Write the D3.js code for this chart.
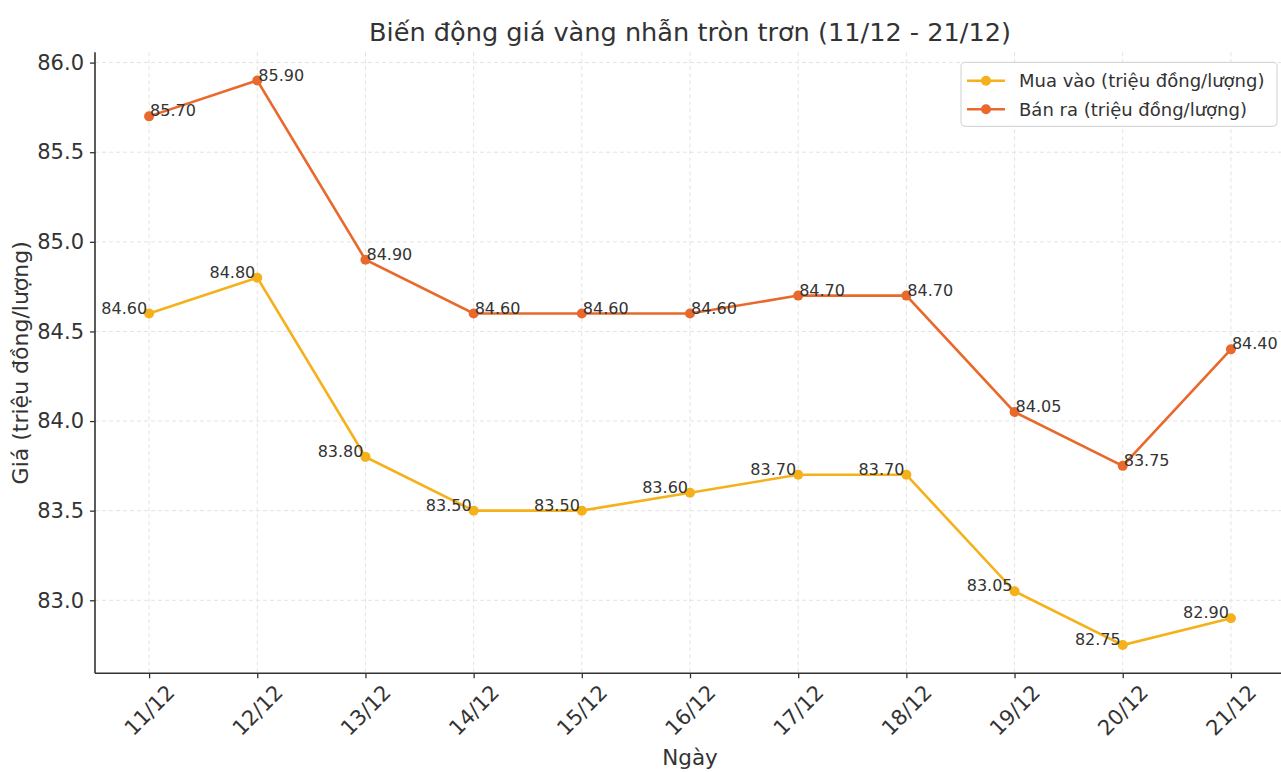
<!DOCTYPE html>
<html><head><meta charset="utf-8">
<script src="https://cdn.jsdelivr.net/npm/d3@7"></script>
<style>body{margin:0;background:#fff}svg{display:block}text{font-family:"DejaVu Sans",sans-serif;fill:#333}</style>
</head><body><svg id="c" width="1281" height="772"></svg>
<script>
const dates = ["11/12","12/12","13/12","14/12","15/12","16/12","17/12","18/12","19/12","20/12","21/12"];
const buyValues = [84.60,84.80,83.80,83.50,83.50,83.60,83.70,83.70,83.05,82.75,82.90];
const sellValues = [85.70,85.90,84.90,84.60,84.60,84.60,84.70,84.70,84.05,83.75,84.40];
const yTicks = [83.0,83.5,84.0,84.5,85.0,85.5,86.0];
const seriesNames = ["Mua vào (triệu đồng/lượng)","Bán ra (triệu đồng/lượng)"];
const colors = ["#f5b01a","#e8692b"];

const svg = d3.select("#c");
const L=95, R=1285, T=52.3, B=673.3;
const x = d3.scaleLinear().domain([-0.5, dates.length-0.5]).range([L,R]);
const y = d3.scaleLinear().domain([82.5925, 86.0575]).range([B,T]);

// grid
const g = svg.append("g");
g.selectAll(".gx").data(dates).enter().append("line")
  .attr("x1",(d,i)=>x(i)).attr("x2",(d,i)=>x(i)).attr("y1",T).attr("y2",B)
  .attr("stroke","#e3e3e3").attr("stroke-width",1).attr("stroke-dasharray","4,3");
g.selectAll(".gy").data(yTicks).enter().append("line")
  .attr("x1",L).attr("x2",R).attr("y1",d=>y(d)).attr("y2",d=>y(d))
  .attr("stroke","#e3e3e3").attr("stroke-width",1).attr("stroke-dasharray","4,3");

// axes
const yAxis = d3.axisLeft(y).tickValues(yTicks).tickFormat(d3.format(".1f")).tickSize(5).tickPadding(6);
const ya = svg.append("g").attr("transform",`translate(${L},0)`).call(yAxis);
ya.select(".domain").remove();
ya.selectAll(".tick line").attr("stroke","#333").attr("stroke-width",1.3);
ya.selectAll(".tick text").style("font-size","21px").style("font-family","DejaVu Sans").attr("fill","#262626");

const xAxis = d3.axisBottom(x).tickValues(d3.range(dates.length)).tickFormat(i=>dates[i]).tickSize(5);
const xa = svg.append("g").attr("transform",`translate(0,${B})`).call(xAxis);
xa.select(".domain").remove();
xa.selectAll(".tick line").attr("stroke","#333").attr("stroke-width",1.3);
xa.selectAll(".tick text").style("font-size","21px").style("font-family","DejaVu Sans").attr("fill","#262626")
  .attr("y",0).attr("dy",null).attr("text-anchor","middle").attr("dominant-baseline","central")
  .attr("transform","translate(0,37) rotate(-45)");

// spines
svg.append("line").attr("x1",L).attr("x2",L).attr("y1",T).attr("y2",B).attr("stroke","#333").attr("stroke-width",1.6);
svg.append("line").attr("x1",L).attr("x2",R).attr("y1",B).attr("y2",B).attr("stroke","#333").attr("stroke-width",1.6);

// lines
const line = d3.line().x((d,i)=>x(i)).y(d=>y(d));
[buyValues, sellValues].forEach((vals,k)=>{
  svg.append("path").attr("d",line(vals)).attr("fill","none").attr("stroke",colors[k]).attr("stroke-width",2.6);
  svg.selectAll(".m"+k).data(vals).enter().append("circle")
    .attr("cx",(d,i)=>x(i)).attr("cy",d=>y(d)).attr("r",5).attr("fill",colors[k]);
});
// labels
svg.selectAll(".lb").data(buyValues).enter().append("text")
  .attr("x",(d,i)=>x(i)-2).attr("y",d=>y(d)).attr("text-anchor","end")
  .style("font-size","16px").text(d=>d.toFixed(2));
svg.selectAll(".ls").data(sellValues).enter().append("text")
  .attr("x",(d,i)=>x(i)+1).attr("y",d=>y(d)).attr("text-anchor","start")
  .style("font-size","16px").text(d=>d.toFixed(2));

// title and axis labels
svg.append("text").attr("x",690).attr("y",41).attr("text-anchor","middle").style("font-size","25.6px").text("Biến động giá vàng nhẫn tròn trơn (11/12 - 21/12)");
svg.append("text").attr("x",690).attr("y",765).attr("text-anchor","middle").style("font-size","21.5px").text("Ngày");
svg.append("text").attr("transform",`translate(28,${(T+B)/2}) rotate(-90)`).attr("text-anchor","middle").style("font-size","22px").text("Giá (triệu đồng/lượng)");

// legend
const lg = svg.append("g");
lg.append("rect").attr("x",961).attr("y",62.3).attr("width",316).attr("height",64).attr("rx",4)
  .attr("fill","#fff").attr("fill-opacity",0.85).attr("stroke","#d0d0d0").attr("stroke-width",1);
seriesNames.forEach((n,k)=>{
  const yy = 80.7 + k*28.6;
  lg.append("line").attr("x1",967).attr("x2",1005).attr("y1",yy).attr("y2",yy).attr("stroke",colors[k]).attr("stroke-width",2.6);
  lg.append("circle").attr("cx",986).attr("cy",yy).attr("r",5).attr("fill",colors[k]);
  lg.append("text").attr("x",1019).attr("y",yy).attr("dy","0.36em").style("font-size","18px").text(n);
});
</script></body></html>
